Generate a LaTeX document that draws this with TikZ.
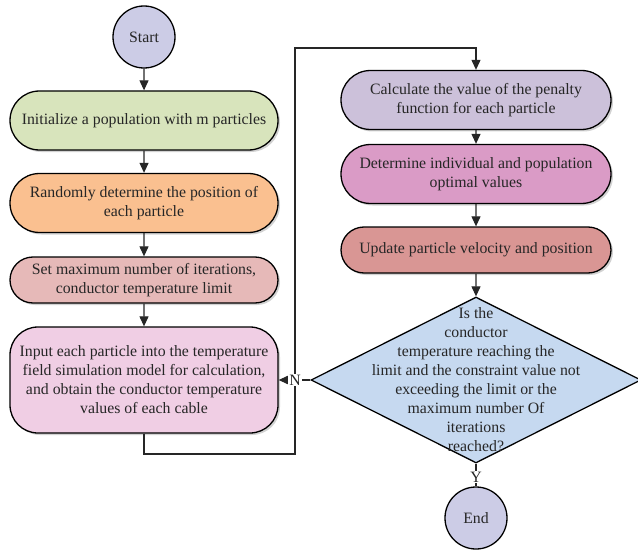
\documentclass[tikz,border=0pt]{standalone}
\usepackage{fontspec}
\setmainfont{Liberation Serif}
\usetikzlibrary{arrows.meta,shapes.geometric,shapes.misc,shadows}

\definecolor{endfill}{RGB}{204,204,230}
\definecolor{initfill}{RGB}{216,228,188}
\definecolor{randfill}{RGB}{250,192,144}
\definecolor{setfill}{RGB}{230,185,184}
\definecolor{inputfill}{RGB}{240,206,228}
\definecolor{calcfill}{RGB}{204,193,218}
\definecolor{optfill}{RGB}{218,155,198}
\definecolor{updfill}{RGB}{217,150,148}
\definecolor{judgefill}{RGB}{198,217,240}

\tikzset{
  box/.style={rounded rectangle, draw=black, line width=1.3pt, minimum width=268pt,
    minimum height=59pt, inner sep=0pt, align=center, text=black!85,
    drop shadow={shadow xshift=2pt, shadow yshift=-2pt, fill=black!35, opacity=.5}},
  terminal/.style={circle, draw=black, line width=1.3pt, minimum size=62pt, inner sep=0pt,
    fill=endfill, text=black!85},
  decision/.style={diamond, draw=black, line width=1.3pt, minimum width=330pt,
    minimum height=166pt, inner sep=0pt, fill=judgefill},
  flow/.style={line width=1.1pt, draw=black!85, -{Triangle[length=10pt,width=9pt]}},
  plain/.style={line width=1.1pt, draw=black!85},
  tag/.style={fill=white, inner sep=1pt, text=black!85}
}

\begin{document}
\begin{tikzpicture}[x=1pt, y=-1pt, font=\fontsize{15.8}{19}\selectfont]

    % Fix the page to the size of the reference
    \useasboundingbox (0,0) rectangle (638,551);

    % Left column of steps
    \node[terminal] (start) at (144,37) {Start};
    \node[box, fill=initfill] (init) at (144,120.5) {Initialize a population with m particles};
    \node[box, fill=randfill] (rand) at (144,203) {Randomly determine the position of\\each particle};
    \node[box, fill=setfill, minimum height=46pt] (setmax) at (144,280) {Set maximum number of iterations,\\conductor temperature limit};
    \node[box, rectangle, rounded corners=28pt, fill=inputfill, minimum height=106pt] (input) at (144,380)
      {Input each particle into the temperature\\field simulation model for calculation,\\and obtain the conductor temperature\\values of each cable};

    % Right column of steps
    \node[box, fill=calcfill, minimum width=270pt] (calc) at (476,100) {Calculate the value of the penalty\\function for each particle};
    \node[box, fill=optfill, minimum width=270pt] (optim) at (476,174) {Determine individual and population\\optimal values};
    \node[box, fill=updfill, minimum width=270pt, minimum height=46pt] (update) at (476,250) {Update particle velocity and position};

    % Decision and end
    \node[decision] (judge) at (476,380) {};
    \node[align=center, text=black!85] (judgetext) at (judge.center)
      {Is the\\conductor\\temperature reaching the\\limit and the constraint value not\\exceeding the limit or the\\maximum number Of\\iterations\\reached?};
    \node[terminal] (stop) at (476,518) {End};

    % Straight arrows between the steps
    \draw[flow] (start) -- (init);
    \draw[flow] (init) -- (rand);
    \draw[flow] (rand) -- (setmax);
    \draw[flow] (setmax) -- (input);
    \draw[flow] (calc) -- (optim);
    \draw[flow] (optim) -- (update);
    \draw[flow] (update) -- (judge);

    % Loop from the simulation step back up to the penalty step
    \coordinate (loopA) at (295,454);
    \coordinate (loopB) at (295,48);
    \draw[flow] (input.south) |- (loopA) -- (loopB) -| (calc.north);

    % No: back to the simulation step
    \draw[flow] (judge.west) -- (input.east);
    \node[tag] (nolabel) at (295,380) {N};

    % Yes: to the end
    \draw[plain] (judge.south) -- (stop.north);
    \node[tag] (yeslabel) at (476,477) {Y};

\end{tikzpicture}
\end{document}
